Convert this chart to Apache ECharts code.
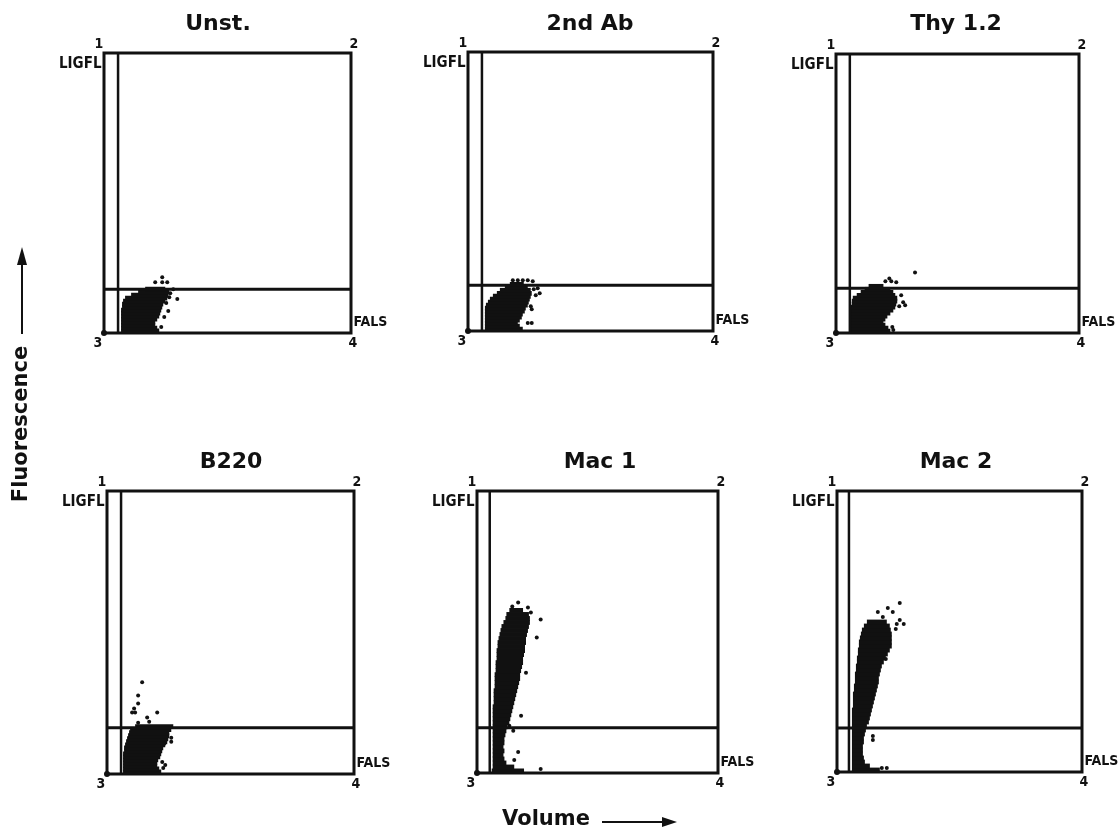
<!DOCTYPE html>
<html>
<head>
<meta charset="utf-8">
<script src="https://cdn.jsdelivr.net/npm/echarts@6/dist/echarts.min.js"></script>
<style>
html, body { margin: 0; padding: 0; background: #fff; }
#chart { width: 1120px; height: 830px; }
</style>
</head>
<body>
<div id="chart"></div>
<script>
// panel titles and axis texts
const panelTitles = ['Unst.', '2nd Ab', 'Thy 1.2', 'B220', 'Mac 1', 'Mac 2'];
const cornerLabels = ['1', '2', '3', '4'];
const yChannelName = 'LIGFL';
const xChannelName = 'FALS';
const xAxisTitle = 'Volume';
const yAxisTitle = 'Fluorescence';

// channel range of every plot
const xMax = 246;
const yMax = 281;

// gate settings (volume threshold, fluorescence threshold)
const xGate = [14, 14, 14, 14, 13, 12];
const yGate = [44, 46, 45, 46, 45, 44];

// dense part of each population: [fluorescence, volume from, volume to]
const unstRows = [
    [2, 17, 55], [5, 17, 53], [8, 17, 51], [11, 17, 51], [14, 17, 53], [17, 17, 55],
    [20, 17, 56], [23, 17, 57], [26, 18, 58], [29, 18, 59], [32, 19, 61], [35, 21, 63],
    [38, 27, 64], [41, 34, 65], [44, 41, 61]
];
const unstDots = [
    [51, 51], [58, 56], [58, 51], [63, 51], [73, 34], [66, 40], [69, 44], [62, 30],
    [64, 22], [60, 16], [57, 6], [65, 36]
];

const ab2Rows = [
    [2, 17, 55], [5, 17, 52], [8, 17, 50], [11, 17, 52], [14, 17, 54], [17, 17, 55],
    [20, 17, 57], [23, 17, 58], [26, 18, 60], [29, 20, 61], [32, 22, 62], [35, 25, 63],
    [38, 29, 64], [41, 32, 63], [44, 37, 60], [47, 42, 56]
];
const ab2Dots = [
    [45, 51], [50, 51], [55, 51], [60, 51], [65, 50], [70, 43], [72, 38], [68, 36],
    [63, 25], [64, 22], [60, 8], [64, 8], [66, 42]
];

const thyRows = [
    [2, 15, 55], [5, 15, 53], [8, 15, 50], [11, 15, 48], [14, 15, 50], [17, 15, 52],
    [20, 15, 55], [23, 15, 58], [26, 15, 60], [29, 16, 61], [32, 16, 62], [35, 17, 62],
    [38, 21, 60], [41, 25, 58], [44, 29, 55], [47, 33, 48]
];
const thyDots = [
    [50, 52], [54, 55], [56, 52], [61, 51], [66, 38], [70, 28], [64, 27], [68, 31],
    [80, 61], [57, 6], [58, 3]
];

const b220Rows = [
    [2, 16, 54], [5, 16, 52], [8, 16, 50], [11, 16, 50], [14, 16, 51], [17, 16, 53],
    [20, 16, 54], [23, 17, 55], [26, 17, 56], [29, 18, 58], [32, 19, 60], [35, 20, 61],
    [38, 21, 62], [41, 22, 62], [44, 23, 64], [47, 28, 66]
];
const b220Dots = [
    [35, 91], [31, 78], [31, 70], [27, 65], [25, 61], [28, 61], [40, 56], [50, 61],
    [31, 51], [42, 52], [64, 36], [64, 32], [56, 6], [58, 9], [55, 12], [57, 30]
];

const mac1Rows = [
    [2, 15, 48], [6, 16, 38], [10, 16, 30], [14, 16, 28], [18, 16, 27], [22, 16, 28],
    [26, 16, 27], [30, 16, 28], [34, 16, 28], [38, 16, 29], [42, 16, 30], [46, 16, 31],
    [50, 16, 33], [54, 16, 34], [58, 16, 35], [62, 16, 36], [66, 16, 37], [70, 17, 38],
    [74, 17, 39], [78, 17, 40], [82, 17, 41], [86, 18, 42], [90, 18, 43], [94, 18, 44],
    [98, 18, 44], [102, 19, 45], [106, 19, 46], [110, 19, 47], [114, 20, 47], [118, 20, 48],
    [122, 20, 49], [126, 21, 49], [130, 21, 50], [134, 22, 50], [138, 23, 51], [142, 24, 52],
    [146, 25, 53], [150, 27, 54], [154, 29, 54], [158, 30, 53], [162, 33, 47]
];
const mac1Dots = [
    [42, 170], [36, 166], [65, 153], [61, 135], [50, 100], [45, 57], [42, 21], [38, 13],
    [65, 4], [33, 47], [37, 42], [55, 160], [52, 165]
];

const mac2Rows = [
    [2, 15, 43], [6, 15, 33], [10, 15, 28], [14, 15, 27], [18, 15, 26], [22, 15, 26],
    [26, 15, 26], [30, 15, 27], [34, 15, 27], [38, 15, 28], [42, 15, 29], [46, 15, 30],
    [50, 15, 32], [54, 15, 33], [58, 15, 34], [62, 15, 35], [66, 16, 36], [70, 16, 37],
    [74, 16, 38], [78, 16, 39], [82, 17, 40], [86, 17, 41], [90, 18, 42], [94, 18, 42],
    [98, 18, 43], [102, 19, 44], [106, 19, 45], [110, 20, 47], [114, 20, 49], [118, 21, 51],
    [122, 21, 53], [126, 22, 55], [130, 22, 55], [134, 23, 55], [138, 24, 55], [142, 25, 54],
    [146, 27, 53], [150, 30, 50]
];
const mac2Dots = [
    [63, 169], [56, 160], [51, 164], [41, 160], [46, 155], [60, 148], [63, 152], [67, 148],
    [59, 143], [49, 113], [36, 36], [36, 32], [50, 4], [45, 4]
];

const panelRows = [unstRows, ab2Rows, thyRows, b220Rows, mac1Rows, mac2Rows];
const panelDots = [unstDots, ab2Dots, thyDots, b220Dots, mac1Dots, mac2Dots];

// layout of the six plots (pixels)
const boxLeft = [104, 468, 836, 107, 477, 837];
const boxTop = [53, 52, 54, 491, 491, 491];
const boxWidth = [247, 245, 243, 247, 241, 245];
const boxHeight = [280, 279, 279, 283, 282, 281];
const titleX = [218, 590, 956, 231, 600, 956];
const titleY = [24, 24, 24, 462, 462, 462];

const ink = '#111';
const labelFont = 'DejaVu Sans Condensed';

let grid = [], xAxis = [], yAxis = [], series = [], graphic = [];

panelTitles.forEach((name, i) => {
    grid.push({
        left: boxLeft[i], top: boxTop[i], width: boxWidth[i], height: boxHeight[i],
        show: true, borderColor: ink, borderWidth: 3, backgroundColor: 'transparent'
    });
    xAxis.push({
        gridIndex: i, type: 'value', min: 0, max: xMax,
        axisLine: { show: false }, axisTick: { show: false },
        axisLabel: { show: false }, splitLine: { show: false }
    });
    yAxis.push({
        gridIndex: i, type: 'value', min: 0, max: yMax,
        axisLine: { show: false }, axisTick: { show: false },
        axisLabel: { show: false }, splitLine: { show: false }
    });

    // gates
    series.push({
        type: 'line', xAxisIndex: i, yAxisIndex: i, symbol: 'none', silent: true,
        lineStyle: { color: ink, width: 2.5 },
        data: [[xGate[i], 0], [xGate[i], yMax]]
    });
    series.push({
        type: 'line', xAxisIndex: i, yAxisIndex: i, symbol: 'none', silent: true,
        lineStyle: { color: ink, width: 3 },
        data: [[0, yGate[i]], [xMax, yGate[i]]]
    });

    // dense cells
    series.push({
        type: 'custom', xAxisIndex: i, yAxisIndex: i, silent: true,
        encode: { x: [1, 2], y: 0 },
        renderItem: function (params, api) {
            const y = api.value(0);
            const p0 = api.coord([api.value(1), y + 2.4]);
            const p1 = api.coord([api.value(2), y - 2.4]);
            return {
                type: 'rect',
                shape: { x: p0[0], y: p0[1], width: p1[0] - p0[0], height: p1[1] - p0[1] },
                style: { fill: ink }
            };
        },
        data: panelRows[i]
    });

    // single cells
    series.push({
        type: 'scatter', xAxisIndex: i, yAxisIndex: i, silent: true,
        symbolSize: 4, itemStyle: { color: ink, opacity: 1 },
        data: panelDots[i]
    });

    // origin marker
    series.push({
        type: 'scatter', xAxisIndex: i, yAxisIndex: i, silent: true,
        symbolSize: 6, itemStyle: { color: ink, opacity: 1 },
        data: [[0, 0]]
    });

    // corner numbers and channel names
    const lab = {
        show: true, color: ink, fontFamily: labelFont, fontWeight: 'bold', fontSize: 14,
        position: 'inside', textBorderWidth: 0, textShadowBlur: 0
    };
    series.push({
        type: 'scatter', xAxisIndex: i, yAxisIndex: i, silent: true,
        symbolSize: 1, itemStyle: { color: 'rgba(0,0,0,0)', opacity: 1 },
        data: [
            { value: [0, yMax], label: Object.assign({}, lab, { formatter: cornerLabels[0], offset: [-5, -9] }) },
            { value: [xMax, yMax], label: Object.assign({}, lab, { formatter: cornerLabels[1], offset: [3, -9] }) },
            { value: [0, 0], label: Object.assign({}, lab, { formatter: cornerLabels[2], offset: [-6, 10] }) },
            { value: [xMax, 0], label: Object.assign({}, lab, { formatter: cornerLabels[3], offset: [2, 10] }) },
            { value: [0, yMax - 11], label: Object.assign({}, lab, { formatter: yChannelName, position: 'left', distance: 2, fontSize: 15 }) },
            { value: [xMax, 11], label: Object.assign({}, lab, { formatter: xChannelName, position: 'right', distance: 2, fontSize: 14 }) }
        ]
    });

    graphic.push({
        type: 'text', x: titleX[i], y: titleY[i],
        style: {
            text: name, fill: ink, font: 'bold 22px "DejaVu Sans"',
            textAlign: 'center', textVerticalAlign: 'middle', align: 'center', verticalAlign: 'middle'
        }
    });
});

// axis titles with arrows
graphic.push({
    type: 'text', x: 22, y: 424, rotation: Math.PI / 2,
    style: {
        text: yAxisTitle, fill: ink, font: 'bold 21px "DejaVu Sans"',
        textAlign: 'center', textVerticalAlign: 'middle', align: 'center', verticalAlign: 'middle'
    }
});
graphic.push({ type: 'line', shape: { x1: 22, y1: 334, x2: 22, y2: 262 }, style: { stroke: ink, lineWidth: 2 } });
graphic.push({ type: 'polygon', shape: { points: [[22, 247], [17, 265], [27, 265]] }, style: { fill: ink } });

graphic.push({
    type: 'text', x: 546, y: 820,
    style: {
        text: xAxisTitle, fill: ink, font: 'bold 21px "DejaVu Sans"',
        textAlign: 'center', textVerticalAlign: 'middle', align: 'center', verticalAlign: 'middle'
    }
});
graphic.push({ type: 'line', shape: { x1: 602, y1: 822, x2: 664, y2: 822 }, style: { stroke: ink, lineWidth: 2 } });
graphic.push({ type: 'polygon', shape: { points: [[677, 822], [662, 817], [662, 827]] }, style: { fill: ink } });

const option = {
    backgroundColor: '#fff',
    animation: false,
    grid: grid,
    xAxis: xAxis,
    yAxis: yAxis,
    series: series,
    graphic: graphic
};

const myChart = echarts.init(document.getElementById('chart'), null, { renderer: 'canvas' });
myChart.setOption(option);
</script>
</body>
</html>
